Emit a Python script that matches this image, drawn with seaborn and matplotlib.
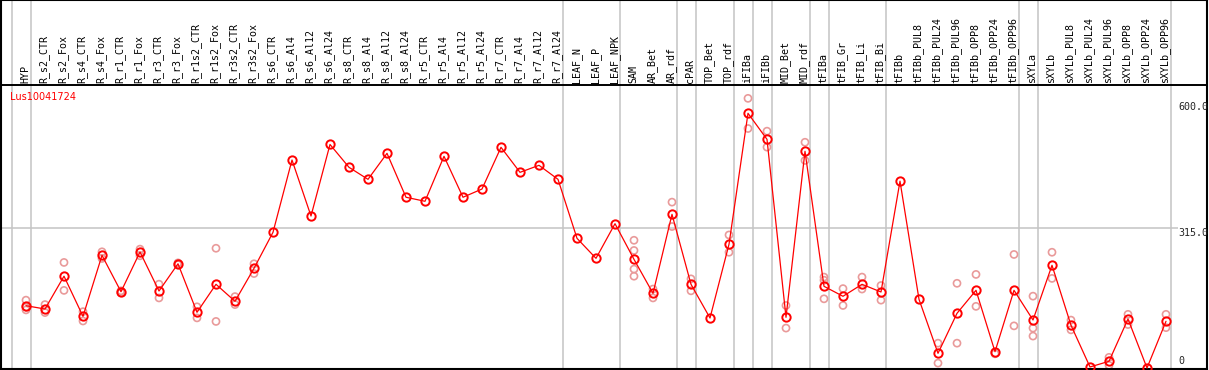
import numpy as np
import pandas as pd
import seaborn as sns
import matplotlib.pyplot as plt

categories = [
    'HYP', 'R_s2_CTR', 'R_s2_Fox', 'R_s4_CTR', 'R_s4_Fox', 'R_r1_CTR', 'R_r1_Fox',
    'R_r3_CTR', 'R_r3_Fox', 'R_r1s2_CTR', 'R_r1s2_Fox', 'R_r3s2_CTR', 'R_r3s2_Fox',
    'R_s6_CTR', 'R_s6_Al4', 'R_s6_Al12', 'R_s6_Al24', 'R_s8_CTR', 'R_s8_Al4',
    'R_s8_Al12', 'R_s8_Al24', 'R_r5_CTR', 'R_r5_Al4', 'R_r5_Al12', 'R_r5_Al24',
    'R_r7_CTR', 'R_r7_Al4', 'R_r7_Al12', 'R_r7_Al24', 'LEAF_N', 'LEAF_P', 'LEAF_NPK',
    'SAM', 'AR_Bet', 'AR_rdf', 'cPAR', 'TOP_Bet', 'TOP_rdf', 'iFIBa', 'iFIBb',
    'MID_Bet', 'MID_rdf', 'tFIBa', 'tFIB_Gr', 'tFIB_Li', 'tFIB_Bi', 'tFIBb',
    'tFIBb_PUL8', 'tFIBb_PUL24', 'tFIBb_PUL96', 'tFIBb_OPP8', 'tFIBb_OPP24',
    'tFIBb_OPP96', 'sXYLa', 'sXYLb', 'sXYLb_PUL8', 'sXYLb_PUL24', 'sXYLb_PUL96',
    'sXYLb_OPP8', 'sXYLb_OPP24', 'sXYLb_OPP96',
]

means = [
    140.5, 133, 207, 116.5, 254, 172, 261.6, 173.6, 235, 125.6, 188.7, 150.4, 224.8,
    306, 469, 342.7, 504, 452.5, 425.4, 484, 385, 375.9, 477.3, 385, 403.6,
    497.6, 441.2, 457, 425.4, 292.4, 247.3, 325.4,
    245, 168.4, 346.5, 188.7, 112.7, 279, 574.3, 515.6, 114.3, 488.6,
    184.2, 161.7, 188.7, 171.4, 421.3, 154.9, 33.1, 123.3, 175.2, 36.8, 175.2,
    108.2, 231.6, 96.3, 2.3, 15.1, 110.5, 0, 105.3,
]

replicates = [
    [153, 137, 131], [143, 125], [238, 175], [127, 106], [262, 247], [174, 170],
    [268, 253], [189, 158], [237, 233], [138, 113], [270, 105], [161, 143], [235, 213],
    [], [], [], [], [], [], [], [], [], [], [], [], [], [], [], [], [], [], [],
    [288, 265, 223, 207], [178, 158], [374, 319], [201, 174], [], [300, 261],
    [608, 540], [534, 498], [141, 90], [509, 468],
    [205, 198, 156], [179, 141], [205, 178], [186, 153], [], [], [56, 11], [191, 56],
    [211, 139], [32], [256, 95],
    [162, 90, 72], [261, 202], [108, 86], [], [24, 6], [121, 98], [], [121, 91],
]

group_ends = [-1, 0, 28, 31, 34, 35, 37, 38, 39, 41, 42, 45, 52, 53, 60]
y_ticks = [600, 315, 0]
y_tick_labels = ['600.0', '315.0', '0']
gene = 'Lus10041724'

# pixel geometry of the reference
W, H = 1209, 370
x0, dx = 26, 19          # px of first category, px per category
y0, sy = 368, 0.4435     # px of value 0, px per unit

sns.set_style('white')
fig = plt.figure(figsize=(W / 100, H / 100), dpi=100)
ax = fig.add_axes([1 / W, 1 / H, 1206 / W, 369 / H])
ax.set_xlim((1 - x0) / dx, (1207 - x0) / dx)
ax.set_ylim((y0 - 369) / sy, y0 / sy)
label_x = (1178 - x0) / dx

# separators and grid
for e in group_ends:
    ax.axvline(e + 0.25, color='#c4c4c4', lw=1.1, zorder=0)
ax.hlines(315, ax.get_xlim()[0], label_x, color='#c4c4c4', lw=1.1, zorder=0)
ax.axhline((y0 - 85) / sy, color='black', lw=1.4, zorder=1)

df_mean = pd.DataFrame({'idx': np.arange(len(categories)), 'value': means})
df_rep = pd.DataFrame([(i, v) for i, reps in enumerate(replicates) for v in reps],
                      columns=['idx', 'value'])

sns.scatterplot(data=df_rep, x='idx', y='value', ax=ax, marker='o', s=26,
                fc='none', ec='#e99a9a', linewidth=1.2, zorder=2, legend=False)
sns.lineplot(data=df_mean, x='idx', y='value', ax=ax, color='red', lw=0.9,
             marker='o', ms=6, markerfacecolor='none', markeredgecolor='red',
             markeredgewidth=1.4, zorder=3, legend=False)

# category labels
label_bottom = (y0 - 83) / sy
for i, c in enumerate(categories):
    ax.text(i - 0.05, label_bottom, c, rotation=90, ha='center', va='bottom',
            family='DejaVu Sans Mono', fontsize=7.2, color='black')

# value labels on the right
for v, t in zip(y_ticks, y_tick_labels):
    if v == 0:
        ax.text(label_x, (y0 - 366.5) / sy, t, ha='left', va='bottom',
                family='DejaVu Sans Mono', fontsize=7.2)
    else:
        ax.text(label_x, v, t, ha='left', va='top',
                family='DejaVu Sans Mono', fontsize=7.2)

ax.text((10 - x0) / dx, (y0 - 97) / sy, gene, color='red', ha='left', va='center',
        family='DejaVu Sans', fontsize=7)

ax.set_xticks([])
ax.set_yticks([])
ax.set_xlabel('')
ax.set_ylabel('')
for s in ax.spines.values():
    s.set_color('black')
    s.set_linewidth(1.5)

fig.savefig('out.png', dpi=100)
